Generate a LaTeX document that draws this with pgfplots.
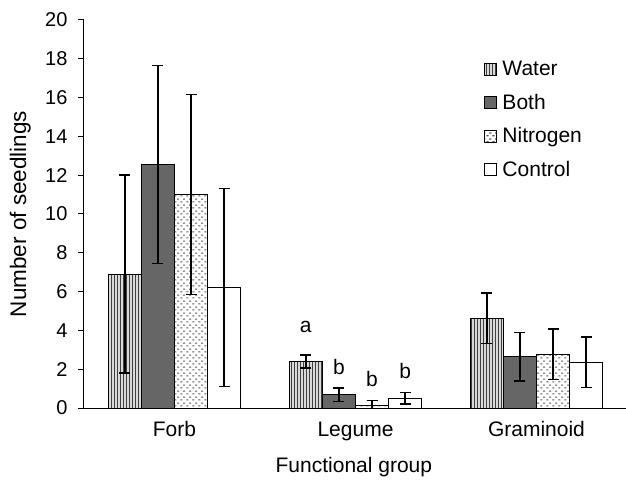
\documentclass[border=0pt]{standalone}
\usepackage{pgfplots}
\pgfplotsset{compat=1.18}
\usepackage{fontspec}
\setmainfont{Liberation Sans}
\usetikzlibrary{patterns}
\pgfdeclarepatternformonly{ndots}{\pgfpointorigin}{\pgfpoint{6pt}{6pt}}{\pgfpoint{6pt}{6pt}}{
  \pgfpathrectangle{\pgfpoint{0.5pt}{0.8pt}}{\pgfpoint{2.4pt}{1.2pt}}
  \pgfpathrectangle{\pgfpoint{3.5pt}{3.8pt}}{\pgfpoint{2.4pt}{1.2pt}}
  \pgfusepath{fill}}
\pgfdeclarepatternformonly{vlines}{\pgfpoint{-1pt}{-1pt}}{\pgfpoint{1pt}{1pt}}{\pgfpoint{3pt}{3pt}}{
  \pgfsetlinewidth{0.9pt}
  \pgfpathmoveto{\pgfpoint{0pt}{-1.6pt}}
  \pgfpathlineto{\pgfpoint{0pt}{1.6pt}}
  \pgfusepath{stroke}}
\definecolor{bothgray}{HTML}{666666}
\newcommand{\ft}{\fontsize{20}{24}\selectfont}
\newcommand{\fl}{\fontsize{21}{25}\selectfont}
\newcommand{\fy}{\fontsize{22.5}{27}\selectfont}
\begin{document}
\begin{tikzpicture}
\useasboundingbox (-84pt,-71pt) rectangle (542pt,408pt);
\begin{axis}[
  at={(0,0)}, anchor=south west,
  scale only axis, width=543pt, height=388pt,
  xmin=0, xmax=3, ymin=0, ymax=20,
  axis lines=left,
  axis line style={-, line width=1pt},
  ytick={0,2,...,20},
  xtick={0.5,1.5,2.5}, xticklabels={Forb,Legume,Graminoid},
  x tick style={draw=none},
  extra x ticks={1,2}, extra x tick labels={},
  extra x tick style={tick style={draw=black, line width=1pt}, major tick length=5pt},
  tick align=outside, major tick length=6pt,
  y tick style={line width=1pt, black},
  yticklabel style={font=\ft, xshift=-7pt},
  xticklabel style={font=\fl, anchor=base, yshift=-22pt},
  /pgf/number format/assume math mode=true,
  ylabel={Number of seedlings},
  xlabel={Functional group},
  ylabel style={font=\fy, at={(axis description cs:-0.1068,0.5)}, anchor=base},
  xlabel style={font=\fl, at={(axis description cs:0.497,-0.1675)}, anchor=base},
  ybar=0pt, bar width=0.183,
  every axis plot/.append style={draw=black, line width=1pt,
    error bars/y dir=both, error bars/y explicit,
    error bars/error bar style={line width=1.4pt, black},
    error bars/error mark options={rotate=90, mark size=5.5pt, line width=1.4pt, black}},
  legend style={at={(axis cs:2.19,18.1)}, anchor=north west, draw=none, fill=none,
    font=\fl, row sep=13pt, /tikz/every odd column/.append style={column sep=4pt}},
  legend cell align=left,
  legend image code/.code={\draw[#1, line width=0.9pt] (0pt,-6pt) rectangle (12pt,6pt);},
]
\addplot[bar shift=-0.2745, fill=gray!30, postaction={pattern=vlines, pattern color=black!75}]
  coordinates {(0.5,6.9) +- (0,5.1) (1.5,2.4) +- (0,0.33) (2.5,4.62) +- (0,1.3)};
\addlegendentry{Water}
\addplot[bar shift=-0.0915, fill=bothgray]
  coordinates {(0.5,12.55) +- (0,5.1) (1.5,0.68) +- (0,0.35) (2.5,2.65) +- (0,1.25)};
\addlegendentry{Both}
\addplot[bar shift=0.0915, fill=white, postaction={pattern=ndots, pattern color=black!65}]
  coordinates {(0.5,11.0) +- (0,5.15) (1.5,0.15) +- (0,0.25) (2.5,2.78) +- (0,1.3)};
\addlegendentry{Nitrogen}
\addplot[bar shift=0.2745, fill=white]
  coordinates {(0.5,6.2) +- (0,5.1) (1.5,0.5) +- (0,0.3) (2.5,2.35) +- (0,1.3)};
\addlegendentry{Control}
\node[font=\fl] at (axis cs:1.2255,4.2) {a};
\node[font=\fl] at (axis cs:1.4085,2.1) {b};
\node[font=\fl] at (axis cs:1.5915,1.5) {b};
\node[font=\fl] at (axis cs:1.7745,1.9) {b};
\end{axis}
\end{tikzpicture}
\end{document}
